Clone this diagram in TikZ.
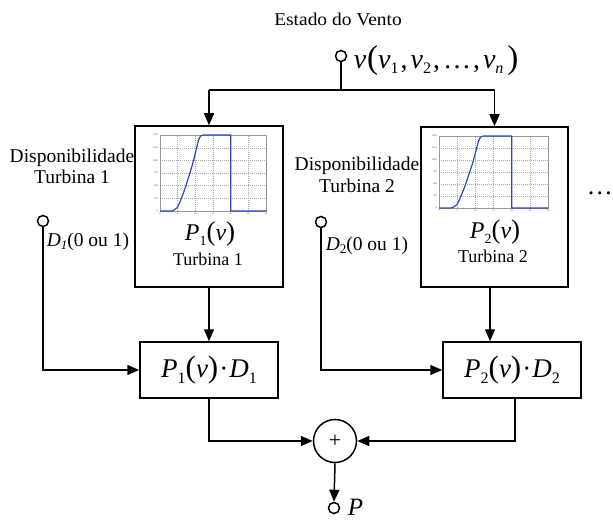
\documentclass[tikz,border=0pt]{standalone}
\usepackage{fontspec}
\setmainfont{Liberation Serif}
\newfontfamily\widefont[FakeStretch=1.08]{Liberation Serif}
\usetikzlibrary{arrows.meta}
\definecolor{curveblue}{RGB}{50,70,190}
\newcommand{\subx}[3]{\raisebox{-#2pt}{\fontsize{#1}{#1}\selectfont #3}}
\newcommand{\fs}[1]{\fontsize{#1}{#1}\selectfont}
\newcommand{\bigp}[2]{{\fontsize{#1}{#1}\selectfont #2}}
\newcommand{\pcurve}[4]{%
 \begin{scope}[shift={(#1,#2)}, xscale=#3/30, yscale=-#4/1500]
  \foreach \gx in {5,10,...,25} \draw[gridline] (\gx,0) -- (\gx,1500);
  \foreach \gy in {250,500,...,1250} \draw[gridline] (0,\gy) -- (30,\gy);
  \draw[plotframe] (0,0) rectangle (30,1500);
  \foreach \gx in {0,5,...,30} \node[ticklbl, anchor=north] at (\gx,-15) {\gx};
  \foreach \gy in {0,250,...,1500} \node[ticklbl, anchor=east] at (-0.3,\gy) {\gy};
  \draw[pcurve] (0,0) -- (3.3,0) plot[smooth] coordinates {(3.3,0) (4.9,70) (6.6,350) (8,645) (9.4,975) (10.8,1370) (11.5,1480) (12.3,1500)} -- (20,1500) -- (20,0) -- (30,0);
 \end{scope}}
\begin{document}
\begin{tikzpicture}[x=1pt,y=-1pt, line width=1.5pt,
  >={Triangle[length=12pt,width=10pt]},
  blk/.style={draw, line width=1.5pt, inner sep=0pt},
  port/.style={circle, draw, line width=1.5pt, minimum size=11pt, inner sep=0pt},
  txt/.style={inner sep=0pt},
  gridline/.style={gray!70, line width=0.35pt, dash pattern=on 1pt off 1pt},
  plotframe/.style={gray!80, line width=0.4pt},
  ticklbl/.style={inner sep=0.3pt, font=\fs{2.5}, text=black!70},
  pcurve/.style={curveblue, line width=1.2pt, line join=round}]
\useasboundingbox (0,0) rectangle (613,524);

% top input
\node[txt, anchor=base, font=\widefont\fs{18}] (estado) at (338,26) {Estado do Vento};
\node[port] (vin) at (341,56) {};
\node[txt, anchor=west, font=\fs{28}] (vlab) at (353,61)
  {\textit{v}\kern1pt\bigp{33}{(}\textit{v}\subx{16}{5}{1}\kern2pt,\kern3pt\textit{v}\subx{16}{5}{2}\kern2pt,\kern3pt…\kern2pt,\kern3pt\textit{v}\subx{16}{5}{\textit{n}}\kern4pt\bigp{33}{)}};
\coordinate (split) at (341,90);
\coordinate (sl) at (209,90);
\coordinate (sr) at (494.5,90);

% turbine boxes
\node[blk, minimum width=148pt, minimum height=161pt] (t1) at (209,206.5) {};
\node[blk, minimum width=147pt, minimum height=160pt] (t2) at (494.5,207) {};
\pcurve{160}{211}{106}{76}
\pcurve{439}{208}{109}{72}
\node[txt, anchor=base, font=\fs{24}] (p1) at (210,240) {\textit{P}\subx{14}{5}{1}\bigp{27}{(}\textit{v}\bigp{27}{)}};
\node[txt, anchor=base, font=\fs{18}] (tb1) at (208,265) {Turbina 1};
\node[txt, anchor=base, font=\fs{24}] (p2) at (495,238) {\textit{P}\subx{14}{5}{2}\bigp{27}{(}\textit{v}\bigp{27}{)}};
\node[txt, anchor=base, font=\fs{18}] (tb2) at (493,262) {Turbina 2};

% availability labels
\node[txt, anchor=base, font=\fs{19.5}] (disp1) at (72,162) {Disponibilidade};
\node[txt, anchor=base, font=\fs{19.5}] (dt1) at (72,183) {Turbina 1};
\node[txt, anchor=base, font=\fs{19.5}] (disp2) at (357,170) {Disponibilidade};
\node[txt, anchor=base, font=\fs{19.5}] (dt2) at (357,192) {Turbina 2};
\node[port] (d1) at (43,221) {};
\node[port] (d2) at (321,222) {};
\node[txt, anchor=base west, font=\fs{19.5}] (d1lab) at (46,246) {\textit{D}\subx{13}{3}{\textit{1}}(0 ou 1)};
\node[txt, anchor=base west, font=\fs{19.5}] (d2lab) at (325,250) {\textit{D}\subx{13}{3}{2}(0 ou 1)};
\node[txt, anchor=base west, font=\fs{26}] (dots) at (586,194) {…};

% multiplier boxes
\node[blk, minimum width=138pt, minimum height=56pt, font=\fs{27}] (m1) at (209,370)
  {\textit{P}\subx{16}{6}{1}\bigp{31}{(}\textit{v}\bigp{31}{)}\kern1pt·\kern1pt\textit{D}\subx{16}{6}{1}};
\node[blk, minimum width=138pt, minimum height=56pt, font=\fs{27}] (m2) at (512,370)
  {\textit{P}\subx{16}{6}{2}\bigp{31}{(}\textit{v}\bigp{31}{)}\kern1pt·\kern1pt\textit{D}\subx{16}{6}{2}};

% sum and output
\node[circle, draw, line width=1.5pt, minimum size=43pt, inner sep=0pt, font=\fs{22}] (sum) at (335,441) {+};
\node[port] (pout) at (334,508) {};
\node[txt, anchor=base west, font=\fs{25}] (plab) at (347,515) {\textit{P}};

% connectors
\draw (vin) -- (split);
\draw (sl) -- (sr);
\draw[->] (sl) -- (t1.north);
\draw[->] (sr) -- (t2.north);
\draw[->] (t1.south) -- (m1.north);
\draw[->] ([xshift=-4.5pt]t2.south) -- ([xshift=-4.5pt]t2.south |- m2.north);
\draw[->] (d1) |- (m1.west);
\draw[->] (d2) |- (m2.west);
\draw[->] (m1.south) |- (sum.west);
\draw[->] ([xshift=3pt]m2.south) |- (sum.east);
\draw[->] (sum.south) -- (pout.north);
\end{tikzpicture}
\end{document}
